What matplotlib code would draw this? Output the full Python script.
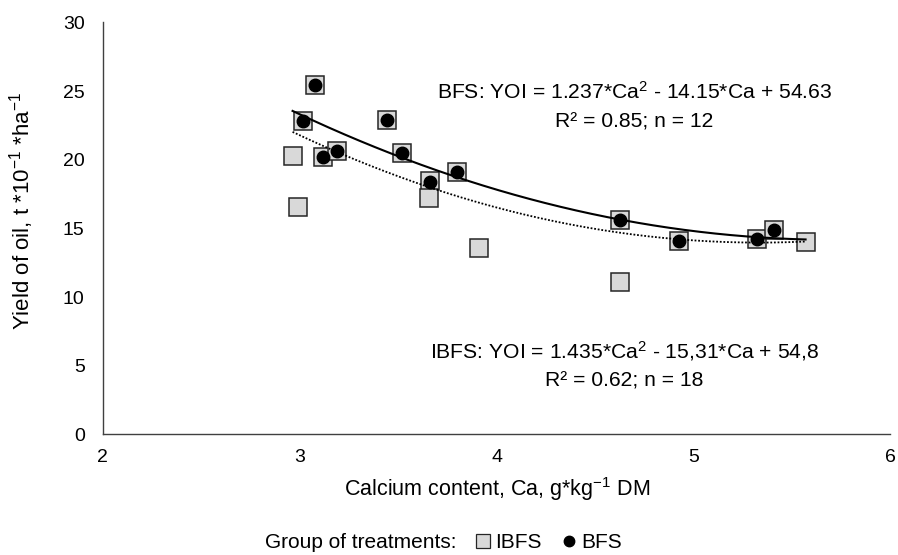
import numpy as np
import matplotlib
matplotlib.use("Agg")
from matplotlib import pyplot as plt
from matplotlib.lines import Line2D

plt.rcParams['font.family'] = ['Liberation Sans', 'DejaVu Sans']
plt.rcParams['mathtext.fontset'] = 'custom'
plt.rcParams['mathtext.rm'] = 'Liberation Sans'
plt.rcParams['mathtext.it'] = 'Liberation Sans:italic'
plt.rcParams['mathtext.bf'] = 'Liberation Sans:bold'

# IBFS group (all 18 points), BFS group (12 points)
ibfs_ca = [2.964, 2.993, 3.018, 3.078, 3.12, 3.191, 3.442, 3.518, 3.661, 3.656, 3.80, 3.909, 4.626, 4.626, 4.927, 5.32, 5.409, 5.569]
ibfs_yoi = [20.27, 16.58, 22.82, 25.45, 20.22, 20.66, 22.89, 20.51, 18.47, 17.23, 19.13, 13.55, 15.61, 11.07, 14.1, 14.22, 14.88, 14.03]
bfs_ca = [3.018, 3.078, 3.12, 3.191, 3.442, 3.518, 3.661, 3.80, 4.626, 4.927, 5.32, 5.409]
bfs_yoi = [22.82, 25.45, 20.22, 20.66, 22.89, 20.51, 18.4, 19.13, 15.61, 14.1, 14.22, 14.88]

# trendline coefficients as printed on the chart
bfs_coef = [1.237, -14.15, 54.63]
ibfs_coef = [1.435, -15.31, 54.8]

x_ticks = [2, 3, 4, 5, 6]
y_ticks = [0, 5, 10, 15, 20, 25, 30]

fig = plt.figure(figsize=(8.98, 5.55), dpi=100)
ax = fig.add_axes([0.1144, 0.2175, 0.8772, 0.742])

ax.plot(ibfs_ca, ibfs_yoi, linestyle='none', marker='s', markersize=13,
        markerfacecolor='#D9D9D9', markeredgecolor='#262626', markeredgewidth=1.1, zorder=2)

xs = np.linspace(min(ibfs_ca), max(ibfs_ca), 200)
ax.plot(xs, np.polyval(bfs_coef, xs), color='black', linewidth=1.5, zorder=3)
ax.plot(xs, np.polyval(ibfs_coef, xs), color='black', linewidth=1.3, linestyle=(0, (1, 1)), zorder=3)

ax.plot(bfs_ca, bfs_yoi, linestyle='none', marker='o', markersize=9,
        markerfacecolor='black', markeredgecolor='black', zorder=4)

ax.text(4.70, 24.42, "BFS: YOI = 1.237*Ca$^{2}$ - 14.15*Ca + 54.63", ha='center', va='baseline', fontsize=15.2)
ax.text(4.70, 22.32, "R² = 0.85; n = 12", ha='center', va='baseline', fontsize=15.2)
ax.text(4.65, 5.55, "IBFS: YOI = 1.435*Ca$^{2}$ - 15,31*Ca + 54,8", ha='center', va='baseline', fontsize=15.2)
ax.text(4.65, 3.45, "R² = 0.62; n = 18", ha='center', va='baseline', fontsize=15.2)

ax.set_xlim(2, 6)
ax.set_ylim(0, 30)
ax.set_xticks(x_ticks)
ax.set_yticks(y_ticks)
ax.tick_params(length=0, labelsize=14, labelcolor='black')
ax.tick_params(axis='y', pad=13)
ax.tick_params(axis='x', pad=10.5)
for s in ['top', 'right']:
    ax.spines[s].set_visible(False)
for s in ['left', 'bottom']:
    ax.spines[s].set_color('#404040')
    ax.spines[s].set_linewidth(1.0)

fig.text(0.553, 1 - 496 / 555, "Calcium content, Ca, g*kg$^{-1}$ DM", ha='center', va='baseline', fontsize=15.5)
fig.text(0.024, 0.62, "Yield of oil, t *10$^{-1}$ *ha$^{-1}$", rotation=90, ha='center', va='center', fontsize=16)

fig.text(0.295, 0.022, "Group of treatments:", ha='left', va='center', fontsize=15)
handles = [
    Line2D([], [], linestyle='none', marker='s', markersize=9.5, markerfacecolor='#D9D9D9',
           markeredgecolor='#262626', markeredgewidth=0.9),
    Line2D([], [], linestyle='none', marker='o', markersize=7.5, markerfacecolor='black',
           markeredgecolor='black'),
]
fig.legend(handles, ['IBFS', 'BFS'], loc='center left', bbox_to_anchor=(0.53, 0.022),
           ncol=2, frameon=False, fontsize=15, handlelength=0.7, handletextpad=0.2,
           columnspacing=1.0, borderpad=0, borderaxespad=0)

fig.savefig('out.png', dpi=100)
